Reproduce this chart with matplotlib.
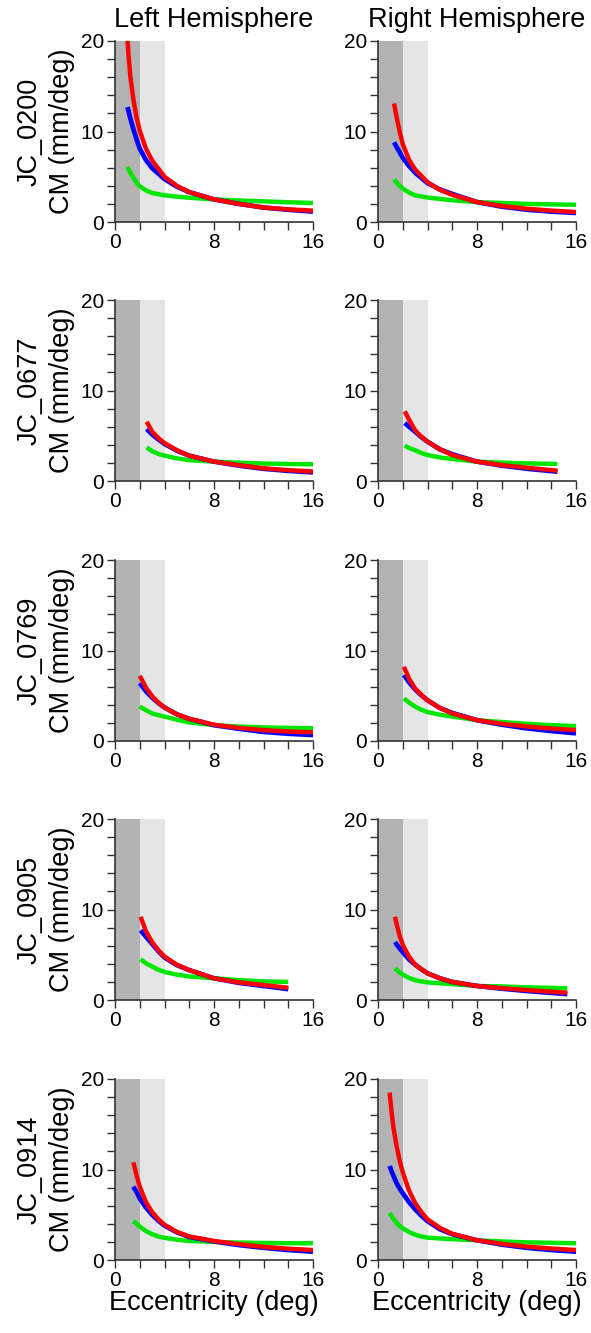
import matplotlib
matplotlib.use("Agg")
import matplotlib.pyplot as plt

plt.rcParams['font.family'] = ['Liberation Sans', 'DejaVu Sans']

subjects = ["JC_0200", "JC_0677", "JC_0769", "JC_0905", "JC_0914"]
hemis = ["Left Hemisphere", "Right Hemisphere"]

# values: eccentricity (deg) and CM (mm/deg)
# JC_0200
ecc_0200_L = [1.0, 1.1, 1.25, 1.5, 1.75, 2, 2.5, 3, 4, 5, 6, 8, 10, 12, 14, 16]
red_0200_L = [20.3, 18.3, 16.0, 13.4, 11.5, 10.1, 8.1, 6.8, 5.0, 4.0, 3.3, 2.5, 2.0, 1.6, 1.4, 1.25]
blue_0200_L = [12.7, 12.2, 11.4, 10.2, 9.1, 8.1, 6.85, 5.95, 4.75, 3.9, 3.3, 2.5, 2.0, 1.6, 1.35, 1.15]
green_0200_L = [6.1, 5.8, 5.4, 4.85, 4.35, 3.95, 3.5, 3.2, 2.95, 2.8, 2.68, 2.5, 2.38, 2.28, 2.18, 2.1]

ecc_0200_R = [1.3, 1.5, 1.75, 2, 2.5, 3, 4, 5, 6, 8, 10, 12, 14, 16]
red_0200_R = [13.1, 11.6, 10.0, 8.6, 6.9, 5.8, 4.4, 3.55, 3.0, 2.2, 1.77, 1.47, 1.26, 1.1]
blue_0200_R = [8.8, 8.3, 7.7, 7.1, 6.2, 5.45, 4.3, 3.6, 3.1, 2.2, 1.7, 1.36, 1.15, 1.0]
green_0200_R = [4.7, 4.35, 4.0, 3.7, 3.25, 2.95, 2.7, 2.55, 2.4, 2.2, 2.1, 2.0, 1.95, 1.9]

# JC_0677
ecc_0677_L = [2.56, 3, 3.5, 4, 5, 6, 8, 10, 12, 14, 16]
red_0677_L = [6.55, 5.45, 4.75, 4.2, 3.4, 2.8, 2.14, 1.75, 1.4, 1.2, 1.05]
blue_0677_L = [5.75, 5.15, 4.6, 4.1, 3.35, 2.8, 2.14, 1.7, 1.35, 1.12, 0.95]
green_0677_L = [3.7, 3.3, 3.0, 2.8, 2.5, 2.3, 2.14, 2.02, 1.93, 1.88, 1.85]

ecc_0677_R = [2.16, 2.5, 3, 3.5, 4, 5, 6, 8, 10, 12, 14.5]
red_0677_R = [7.7, 6.8, 5.6, 4.9, 4.35, 3.5, 2.87, 2.14, 1.75, 1.47, 1.14]
blue_0677_R = [6.4, 6.0, 5.45, 4.85, 4.35, 3.5, 2.95, 2.14, 1.7, 1.36, 1.03]
green_0677_R = [3.9, 3.65, 3.4, 3.1, 2.87, 2.6, 2.43, 2.14, 2.03, 1.95, 1.88]

# JC_0769
ecc_0769_L = [2, 2.5, 3, 3.5, 4, 5, 6, 8, 10, 12, 14, 16]
red_0769_L = [7.2, 5.9, 4.95, 4.25, 3.7, 2.95, 2.45, 1.8, 1.45, 1.2, 1.05, 0.96]
blue_0769_L = [6.4, 5.5, 4.8, 4.2, 3.7, 2.95, 2.45, 1.75, 1.35, 1.0, 0.8, 0.66]
green_0769_L = [3.8, 3.4, 3.05, 2.85, 2.7, 2.35, 2.05, 1.75, 1.6, 1.5, 1.45, 1.4]

ecc_0769_R = [2.1, 2.5, 3, 3.5, 4, 5, 6, 8, 10, 12, 14, 16]
red_0769_R = [8.2, 6.9, 5.8, 5.1, 4.5, 3.65, 3.05, 2.3, 1.9, 1.6, 1.38, 1.2]
blue_0769_R = [7.3, 6.5, 5.7, 5.05, 4.5, 3.65, 3.1, 2.3, 1.8, 1.4, 1.1, 0.85]
green_0769_R = [4.7, 4.25, 3.8, 3.45, 3.2, 2.9, 2.7, 2.3, 2.1, 1.9, 1.75, 1.65]

# JC_0905
ecc_0905_L = [2.07, 2.5, 3, 3.5, 4, 5, 6, 8, 10, 12, 14.0]
red_0905_L = [9.2, 7.6, 6.4, 5.5, 4.8, 3.9, 3.3, 2.4, 1.95, 1.65, 1.35]
blue_0905_L = [7.7, 7.0, 6.2, 5.4, 4.7, 3.85, 3.3, 2.4, 1.9, 1.55, 1.2]
green_0905_L = [4.5, 4.05, 3.7, 3.35, 3.1, 2.8, 2.6, 2.4, 2.2, 2.05, 2.0]

ecc_0905_R = [1.37, 1.5, 1.75, 2, 2.5, 3, 3.5, 4, 5, 6, 8, 10, 12, 15.3]
red_0905_R = [9.2, 8.4, 7.1, 6.1, 4.8, 3.9, 3.4, 2.95, 2.4, 2.0, 1.55, 1.3, 1.1, 0.8]
blue_0905_R = [6.4, 6.15, 5.7, 5.3, 4.5, 3.9, 3.4, 2.95, 2.4, 2.0, 1.55, 1.25, 1.0, 0.65]
green_0905_R = [3.5, 3.35, 3.05, 2.8, 2.45, 2.2, 2.05, 1.95, 1.85, 1.75, 1.55, 1.5, 1.4, 1.3]

# JC_0914
ecc_0914_L = [1.48, 1.75, 2, 2.5, 3, 3.5, 4, 5, 6, 8, 10, 12, 14, 16]
red_0914_L = [10.8, 9.3, 8.1, 6.4, 5.3, 4.5, 3.9, 3.1, 2.6, 2.1, 1.75, 1.45, 1.25, 1.1]
blue_0914_L = [8.1, 7.5, 6.8, 5.8, 5.0, 4.35, 3.8, 3.05, 2.55, 2.05, 1.65, 1.35, 1.1, 0.92]
green_0914_L = [4.3, 4.0, 3.7, 3.2, 2.85, 2.6, 2.45, 2.25, 2.1, 2.0, 1.93, 1.88, 1.86, 1.85]

ecc_0914_R = [0.94, 1.1, 1.25, 1.5, 1.75, 2, 2.5, 3, 3.5, 4, 5, 6, 8, 10, 12, 14, 16]
red_0914_R = [18.5, 16.3, 14.6, 12.6, 11.0, 9.7, 7.7, 6.3, 5.3, 4.5, 3.55, 2.9, 2.18, 1.78, 1.48, 1.27, 1.1]
blue_0914_R = [10.4, 9.8, 9.3, 8.5, 7.9, 7.4, 6.4, 5.6, 4.9, 4.3, 3.4, 2.85, 2.18, 1.7, 1.35, 1.1, 0.92]
green_0914_R = [5.2, 4.85, 4.55, 4.1, 3.75, 3.5, 3.1, 2.8, 2.6, 2.47, 2.38, 2.3, 2.18, 2.05, 1.95, 1.9, 1.85]

panels = [
    [(ecc_0200_L, red_0200_L, blue_0200_L, green_0200_L), (ecc_0200_R, red_0200_R, blue_0200_R, green_0200_R)],
    [(ecc_0677_L, red_0677_L, blue_0677_L, green_0677_L), (ecc_0677_R, red_0677_R, blue_0677_R, green_0677_R)],
    [(ecc_0769_L, red_0769_L, blue_0769_L, green_0769_L), (ecc_0769_R, red_0769_R, blue_0769_R, green_0769_R)],
    [(ecc_0905_L, red_0905_L, blue_0905_L, green_0905_L), (ecc_0905_R, red_0905_R, blue_0905_R, green_0905_R)],
    [(ecc_0914_L, red_0914_L, blue_0914_L, green_0914_L), (ecc_0914_R, red_0914_R, blue_0914_R, green_0914_R)],
]

W, H = 591, 1333
fig = plt.figure(figsize=(W / 100, H / 100), dpi=100)

col_left = [115, 378]
ax_w, ax_h = 198, 181
row_top = [41, 300, 560, 819, 1079]

for r in range(5):
    for c in range(2):
        x0 = col_left[c] / W
        y0 = 1 - (row_top[r] + ax_h) / H
        ax = fig.add_axes([x0, y0, ax_w / W, ax_h / H])
        ecc, red, blue, green = panels[r][c]
        ax.axvspan(0, 2, color="#b3b3b3", lw=0, zorder=0)
        ax.axvspan(2, 4, color="#e5e5e5", lw=0, zorder=0)
        style = dict(solid_capstyle="butt", solid_joinstyle="round")
        ax.plot(ecc, green, color="#00e600", lw=3.2, zorder=2, **style)
        ax.plot(ecc, blue, color="#0000ff", lw=3.4, zorder=3, **style)
        ax.plot(ecc, red, color="#ff0000", lw=3.2, zorder=4, **style)
        ax.set_xlim(0, 16)
        ax.set_ylim(0, 20)
        ax.set_xticks([0, 8, 16])
        ax.set_xticks(range(0, 17, 2), minor=True)
        ax.set_yticks([0, 10, 20])
        ax.set_yticks(range(0, 21, 2), minor=True)
        ax.tick_params(which="both", direction="out", length=6, width=1,
                       color="#333333", labelsize=15, pad=2)
        for s in ["top", "right"]:
            ax.spines[s].set_visible(False)
        for s in ["left", "bottom"]:
            ax.spines[s].set_color("#333333")
            ax.spines[s].set_linewidth(1.2)
        ax.patch.set_alpha(0)
        if r == 0:
            ax.set_title(hemis[c], fontsize=19.5, pad=10)
        if r == 4:
            ax.set_xlabel("Eccentricity (deg)", fontsize=19.5, labelpad=0)
    yc = 1 - (row_top[r] + ax_h / 2) / H
    fig.text(30 / W, yc, subjects[r], rotation=90, fontsize=19.5, ha="center", va="center")
    fig.text(62 / W, yc, "CM (mm/deg)", rotation=90, fontsize=19.5, ha="center", va="center")

fig.savefig("out.png", dpi=100)
